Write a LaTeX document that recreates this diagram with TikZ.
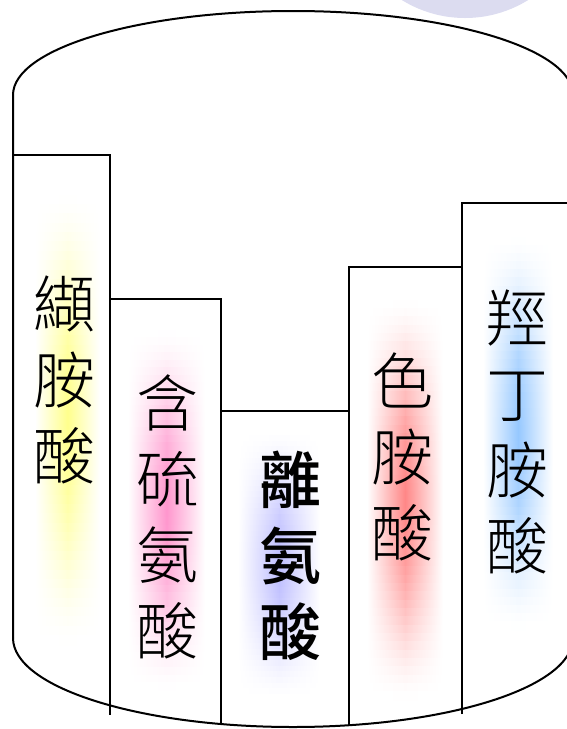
\documentclass[tikz,border=0pt]{standalone}
\usepackage{fontspec}
\newfontfamily\cjk{Noto Sans CJK TC}[UprightFont={* Light}, BoldFont={* Medium}]

\definecolor{glowY}{RGB}{255,255,140}
\definecolor{glowP}{RGB}{255,150,205}
\definecolor{glowL}{RGB}{190,190,255}
\definecolor{glowR}{RGB}{255,135,135}
\definecolor{glowB}{RGB}{150,200,255}
\definecolor{lav}{RGB}{220,220,240}

% soft glow strip: colour, x1, y1, x2, y2
\newcommand{\glowbar}[5]{%
  \foreach \k in {0,...,47}{
    \pgfmathsetmacro{\ya}{#3+(#5-#3)/48*\k}
    \pgfmathsetmacro{\yb}{#3+(#5-#3)/48*(\k+1)+0.7}
    \pgfmathsetmacro{\p}{100*sin(180*(\k+0.5)/48)^1.5}
    \shade[left color=white, right color=white, middle color=#1!\p!white] (#2,\ya) rectangle (#4,\yb);
  }}

\tikzset{
  rim/.style={line width=2pt},
  acid/.style={font=\cjk\fontsize{62}{76}\selectfont, align=center, inner sep=0pt},
  boldacid/.style={acid, font=\cjk\bfseries\fontsize{62}{76}\selectfont}
}

\begin{document}
\begin{tikzpicture}[x=1pt, y=-1pt]
\useasboundingbox (0,0) rectangle (567,729);
\clip (0,0) rectangle (567,729);

\fill[lav] (465,-102) circle [radius=120];

% glows behind the names
\glowbar{glowY}{35}{195}{100}{645}
\glowbar{glowP}{128}{330}{205}{690}
\glowbar{glowL}{238}{430}{320}{700}
\glowbar{glowR}{367}{300}{443}{700}
\glowbar{glowB}{483}{237}{553}{630}

% barrel
\draw[rim] (13,638) -- (13,95) arc [start angle=180, end angle=360, x radius=280, y radius=84];
\draw[rim] (13,638) arc [start angle=180, end angle=0, x radius=280, y radius=89];

% bars
\draw[rim] (13,155) -- (110,155) -- (110,715);
\draw[rim] (110,299) -- (221,299) -- (221,724);
\draw[rim] (221,411) -- (349,411);
\draw[rim] (349,725) -- (349,267) -- (462,267);
\draw[rim] (462,714) -- (462,203) -- (570,203);

\node[acid] (A1) at (65,380) {纈\\胺\\酸};
\node[acid] (A2) at (167,517) {含\\硫\\氨\\酸};
\node[boldacid] (A3) at (290,556) {離\\氨\\酸};
\node[acid] (A4) at (402,457) {色\\胺\\酸};
\node[acid] (A5) at (517,432) {羥\\丁\\胺\\酸};
\end{tikzpicture}
\end{document}
